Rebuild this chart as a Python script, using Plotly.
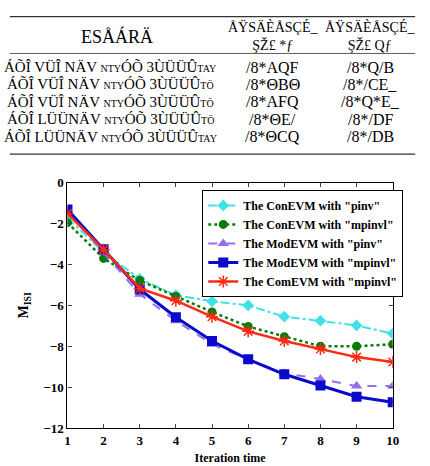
import plotly.graph_objects as go

iterations = [1, 2, 3, 4, 5, 6, 7, 8, 9, 10]
conevm_pinv = [-1.7, -3.4, -4.7, -5.5, -5.8, -6.0, -6.55, -6.75, -6.98, -7.38]
conevm_mpinvl = [-1.95, -3.7, -4.78, -5.56, -6.32, -7.03, -7.53, -8.0, -8.0, -7.9]
modevm_pinv = [-1.4, -3.4, -5.45, -6.75, -7.9, -8.64, -9.32, -9.6, -9.95, -9.95]
modevm_mpinvl = [-1.3, -3.25, -5.21, -6.58, -7.74, -8.64, -9.37, -9.92, -10.47, -10.74]
comevm_mpinvl = [-1.5, -3.27, -5.17, -5.77, -6.55, -7.27, -7.74, -8.13, -8.53, -8.77]

series_names = ['The ConEVM with "pinv"', 'The ConEVM with "mpinvl"',
                'The ModEVM with "pinv"', 'The ModEVM with "mpinvl"',
                'The ComEVM with "mpinvl"']

SM = "<span style='font-size:10px'>"
table_header = ["ESÅÁRÄ", "ÅŸSÄÈÅSÇÉ_<br>ŞŽ£ *ƒ", "ÅŸSÄÈÅSÇÉ_<br>ŞŽ£ Qƒ"]
table_col1 = ["ÁÕÎ VÜÎ NÄV " + SM + "NTY</span>ÓÕ 3ÙÜÜÛ" + SM + "TAY</span>",
              "ÁÕÎ VÜÎ NÄV " + SM + "NTY</span>ÓÕ 3ÙÜÜÛ" + SM + "TÖ</span>",
              "ÁÕÎ VÜÎ NÄV " + SM + "NTY</span>ÓÕ 3ÙÜÜÛ" + SM + "TÖ</span>",
              "ÁÕÎ LÜÜNÄV " + SM + "NTY</span>ÓÕ 3ÙÜÜÛ" + SM + "TÖ</span>",
              "ÁÕÎ LÜÜNÄV " + SM + "NTY</span>ÓÕ 3ÙÜÜÛ" + SM + "TAY</span>"]
table_col2 = ["/8*AQF", "/8*ΘBΘ", "/8*AFQ", "/8*ΘE/", "/8*ΘCQ"]
table_col3 = ["/8*Q/B", "/8*/CE_", "/8*Q*E_", "/8*/DF", "/8*/DB"]

FONT = "Liberation Serif"
W, H = 430, 466

fig = go.Figure()

styles = [
    dict(color="#40E0E8", dash="dashdot", width=2, symbol="diamond", msize=9),
    dict(color="#0B7A0B", dash="dot", width=2.5, symbol="circle", msize=9),
    dict(color="#9370E8", dash="dash", width=2, symbol="triangle-up", msize=10),
    dict(color="#0A0ACC", dash="solid", width=3, symbol="square", msize=10),
    dict(color="#FF2A12", dash="solid", width=2.5, symbol="asterisk-open", msize=10),
]
data = [conevm_pinv, conevm_mpinvl, modevm_pinv, modevm_mpinvl, comevm_mpinvl]

for name, ys, st in zip(series_names, data, styles):
    marker = dict(symbol=st["symbol"], size=st["msize"], color=st["color"])
    if st["symbol"] == "asterisk-open":
        marker["line"] = dict(color=st["color"], width=1.5)
    fig.add_trace(go.Scatter(
        x=iterations, y=ys, mode="lines+markers", name=name,
        line=dict(color=st["color"], dash=st["dash"], width=st["width"]),
        marker=marker,
    ))

def px_x(p):
    return p / W

def px_y(p):
    return 1 - p / H

shapes = []
for yline, w in [(10, 1.2), (48, 0.8), (152, 1.2)]:
    shapes.append(dict(type="line", xref="paper", yref="paper",
                       x0=px_x(7), x1=px_x(422), y0=px_y(yline), y1=px_y(yline),
                       line=dict(color="#333333", width=w)))

def ann(text, x, y, size, **kw):
    d = dict(text=text, x=px_x(x), y=px_y(y), xref="paper", yref="paper",
             showarrow=False, xanchor="center", yanchor="middle",
             font=dict(family=FONT, size=size, color="black"))
    d.update(kw)
    return d

annotations = []
col_x = [110, 276, 376]
annotations.append(ann(table_header[0], 117, 30, 18))
for i in (1, 2):
    annotations.append(ann(table_header[i], col_x[i], 30, 14))
row_y = [62, 80, 98, 116, 134]
for ry, c1, c2, c3 in zip(row_y, table_col1, table_col2, table_col3):
    annotations.append(ann(c1, col_x[0], ry, 15))
    annotations.append(ann(c2, col_x[1], ry, 16))
    annotations.append(ann(c3, col_x[2], ry, 16))

annotations.append(ann("<b>M<sub>ISI</sub></b>", 22, 308, 14, textangle=-90))

fig.update_layout(
    width=W, height=H,
    margin=dict(l=0, r=0, t=0, b=0),
    paper_bgcolor="white", plot_bgcolor="white",
    font=dict(family=FONT, color="black"),
    shapes=shapes, annotations=annotations,
    xaxis=dict(domain=[px_x(66), px_x(399)], range=[1, 10], tickvals=iterations,
               ticks="inside", ticklen=4, showline=True, linecolor="black",
               linewidth=1.2, mirror="ticks", showgrid=False, zeroline=False,
               tickfont=dict(family=FONT, size=13, color="black", weight="bold"),
               title=dict(text="<b>Iteration time</b>", standoff=6,
                          font=dict(family=FONT, size=12, color="black"))),
    yaxis=dict(domain=[px_y(435), px_y(181.7)], range=[-12, 0],
               tickvals=[0, -2, -4, -6, -8, -10, -12],
               ticks="inside", ticklen=4, showline=True, linecolor="black",
               linewidth=1.2, mirror="ticks", showgrid=False, zeroline=False,
               tickfont=dict(family=FONT, size=13, color="black", weight="bold")),
    legend=dict(x=px_x(204), y=px_y(189), xanchor="left", yanchor="top",
                bgcolor="white", bordercolor="black", borderwidth=1,
                font=dict(family=FONT, size=12, color="black", weight="bold"),
                tracegroupgap=0, itemwidth=30),
    showlegend=True,
)

fig.write_html("out.html")
